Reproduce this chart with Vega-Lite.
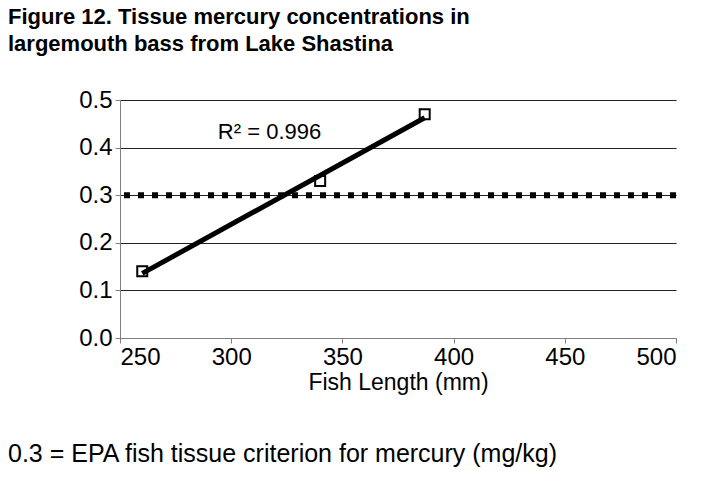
{
  "$schema": "https://vega.github.io/schema/vega-lite/v6.json",
  "background": "white",
  "padding": {"left": 8, "top": 6, "right": 30, "bottom": 10},
  "config": {
    "font": "Liberation Sans",
    "view": {"stroke": null},
    "concat": {"spacing": 0},
    "axis": {
      "labelFont": "Liberation Sans",
      "titleFont": "Liberation Sans",
      "labelColor": "black",
      "titleColor": "black",
      "domainColor": "#808080",
      "tickColor": "#808080",
      "tickSize": 5,
      "domainWidth": 1,
      "tickWidth": 1
    }
  },
  "title": {
    "text": ["Figure 12. Tissue mercury concentrations in", "largemouth bass from Lake Shastina"],
    "anchor": "start",
    "frame": "bounds",
    "font": "Liberation Sans",
    "fontSize": 22,
    "fontWeight": "bold",
    "color": "black",
    "lineHeight": 27,
    "offset": 32
  },
  "vconcat": [
    {
      "width": 556,
      "height": 238,
      "title": {
        "text": "0.3 = EPA fish tissue criterion for mercury (mg/kg)",
        "orient": "bottom",
        "anchor": "start",
        "frame": "group",
        "dx": -112,
        "font": "Liberation Sans",
        "fontSize": 25,
        "fontWeight": "normal",
        "color": "black",
        "offset": 48
      },
      "data": {"values": [
        {"length": 260, "hg": 0.14},
        {"length": 340, "hg": 0.33},
        {"length": 387, "hg": 0.47}
      ]},
      "layer": [
        {
          "data": {"values": [{"criterion": 0.3}]},
          "mark": {"type": "rule", "color": "black", "strokeWidth": 6, "strokeDash": [6, 8], "strokeCap": "butt"},
          "encoding": {
            "y": {"field": "criterion", "type": "quantitative"}
          }
        },
        {
          "mark": {"type": "point", "shape": "square", "filled": true, "fill": "white", "stroke": "black", "strokeWidth": 2, "size": 100, "opacity": 1},
          "encoding": {
            "x": {"field": "length", "type": "quantitative"},
            "y": {"field": "hg", "type": "quantitative"}
          }
        },
        {
          "transform": [{"regression": "hg", "on": "length"}],
          "mark": {"type": "line", "color": "black", "strokeWidth": 5},
          "encoding": {
            "x": {"field": "length", "type": "quantitative"},
            "y": {"field": "hg", "type": "quantitative"}
          }
        },
        {
          "data": {"values": [{"label": "R² = 0.996"}]},
          "mark": {"type": "text", "align": "left", "baseline": "middle", "fontSize": 22, "color": "black", "font": "Liberation Sans"},
          "encoding": {
            "x": {"datum": 294},
            "y": {"datum": 0.433},
            "text": {"field": "label"}
          }
        }
      ],
      "encoding": {
        "x": {
          "type": "quantitative",
          "scale": {"domain": [250, 500], "nice": false, "zero": false},
          "axis": {
            "title": "Fish Length (mm)",
            "values": [250, 300, 350, 400, 450, 500],
            "grid": false,
            "labelFontSize": 24,
            "labelPadding": 2,
            "titleFontSize": 23,
            "titleFontWeight": "normal",
            "titlePadding": 2
          }
        },
        "y": {
          "type": "quantitative",
          "scale": {"domain": [0, 0.5], "nice": false, "zero": false},
          "axis": {
            "title": null,
            "values": [0, 0.1, 0.2, 0.3, 0.4, 0.5],
            "format": ".1f",
            "grid": true,
            "gridColor": "#222222",
            "gridWidth": 1,
            "labelFontSize": 24,
            "labelPadding": 3
          }
        }
      }
    }
  ]
}
